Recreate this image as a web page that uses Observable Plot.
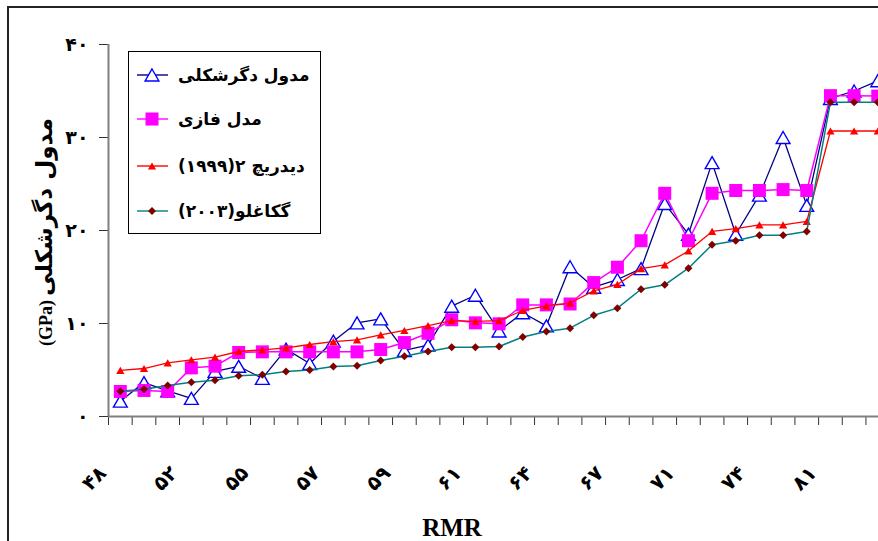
<!DOCTYPE html>
<html>
<head>
<meta charset="utf-8">
<script src="https://cdn.jsdelivr.net/npm/d3@7"></script>
<script src="https://cdn.jsdelivr.net/npm/@observablehq/plot@0.6"></script>
<style>
html, body { margin: 0; padding: 0; background: #fff; overflow: hidden; }
#wrap { position: relative; width: 878px; height: 541px; overflow: hidden; background: #fff; }
#frame { position: absolute; left: 7px; top: 6px; width: 960px; height: 640px; border-top: 2px solid #222; border-left: 2px solid #222; pointer-events: none; }
#legend { position: absolute; left: 128px; top: 51px; width: 191px; height: 181px; border: 1px solid #000; background: #fff; font: bold 17px "DejaVu Sans", sans-serif; }
#legend .row { position: absolute; left: 0; width: 191px; height: 30px; }
#legend svg { position: absolute; left: 8px; top: 0; }
#legend .lab { position: absolute; left: 49px; top: 0; height: 30px; line-height: 30px; direction: rtl; unicode-bidi: embed; white-space: nowrap; }
#ytitle { position: absolute; left: 44px; top: 232px; transform: translate(-50%, -50%) rotate(-90deg); white-space: nowrap; direction: rtl; font-weight: bold; color: #000; line-height: 1; }
#ytitle .fa { font: bold 23px "DejaVu Sans", sans-serif; }
#ytitle .en { font: bold 18px "Liberation Serif", serif; direction: ltr; unicode-bidi: isolate; }
</style>
</head>
<body>
<div id="wrap"><div id="chart"></div><div id="frame"></div><div id="legend"></div><div id="ytitle"></div></div>
<script>
// ---- data ----
const seriesNames = ["مدول دگرشکلی", "مدل فازی", "دیدریچ ۲(۱۹۹۹)", "گکاغلو(۲۰۰۳)"];
const deformModulus = [1.65, 3.65, 2.75, 1.95, 4.85, 5.4, 4.1, 7.25, 5.7, 8.1, 10.07, 10.5, 7.1, 7.67, 11.86, 13.04, 9.2, 11.15, 9.75, 16.1, 13.9, 14.73, 15.9, 22.9, 19.6, 27.3, 19.6, 23.8, 30.0, 22.7, 34.2, 35.0, 36.1];
const fuzzyModel    = [2.69, 2.8, 2.69, 5.23, 5.41, 6.88, 6.95, 6.95, 6.95, 6.95, 6.95, 7.2, 7.95, 8.95, 10.4, 10.07, 9.97, 12.0, 12.0, 12.1, 14.4, 16.05, 18.9, 24.0, 18.9, 24.0, 24.3, 24.3, 24.4, 24.3, 34.5, 34.5, 34.45];
const diederichs    = [4.95, 5.16, 5.77, 6.1, 6.38, 6.99, 7.17, 7.37, 7.74, 8.06, 8.24, 8.78, 9.25, 9.78, 10.3, 10.22, 10.3, 11.4, 11.9, 12.2, 13.5, 14.2, 15.9, 16.3, 17.8, 19.9, 20.2, 20.6, 20.6, 20.97, 30.7, 30.7, 30.7];
const gokceoglu     = [2.72, 2.94, 3.33, 3.69, 3.9, 4.37, 4.48, 4.84, 5.0, 5.38, 5.45, 6.02, 6.49, 6.99, 7.45, 7.45, 7.53, 8.55, 9.15, 9.5, 10.88, 11.65, 13.68, 14.16, 15.95, 18.46, 18.9, 19.5, 19.5, 19.9, 33.8, 33.8, 33.8];
const xTickLabels = ["۴۸", "۵۲", "۵۵", "۵۷", "۵۹", "۶۱", "۶۴", "۶۷", "۷۱", "۷۴", "۸۱"];
const xTickIndex  = [0, 3, 6, 9, 12, 15, 18, 21, 24, 27, 30];
const yTicks = [0, 10, 20, 30, 40];
const yTickLabels = ["۰", "۱۰", "۲۰", "۳۰", "۴۰"];
const yTitleFa = "مدول دگرشکلی";
const yTitleUnit = "(GPa)";
const xTitle = "RMR";

// ---- symbols centred on their bounding box ----
const triBox = { draw(ctx, size) { const r = Math.sqrt(size / Math.PI); ctx.moveTo(0, -r); ctx.lineTo(r * 1.15, r); ctx.lineTo(-r * 1.15, r); ctx.closePath(); } };
const sqBox = { draw(ctx, size) { const r = Math.sqrt(size / Math.PI); ctx.rect(-r, -r, 2 * r, 2 * r); } };
const diaBox = { draw(ctx, size) { const r = Math.sqrt(size / Math.PI); ctx.moveTo(0, -r); ctx.lineTo(r, 0); ctx.lineTo(0, r); ctx.lineTo(-r, 0); ctx.closePath(); } };

const nCat = deformModulus.length;
const rows = (vals) => vals.map((v, i) => ({x: i + 0.5, y: v}));
const sBlue = rows(deformModulus), sMag = rows(fuzzyModel), sRed = rows(diederichs), sTeal = rows(gokceoglu);
const yLab = new Map(yTicks.map((t, i) => [t, yTickLabels[i]]));
const FONT = '"DejaVu Sans", sans-serif';

const plot = Plot.plot({
  width: 878, height: 541,
  marginLeft: 108, marginRight: 878 - 108 - nCat * 23.67, marginTop: 44, marginBottom: 125,
  x: {type: "linear", domain: [0, nCat], axis: null},
  y: {domain: [0, 40], axis: null},
  style: {fontFamily: FONT, fontWeight: "bold", fontSize: "17px", color: "#000", background: "#fff", overflow: "hidden"},
  marks: [
    Plot.axisY({ticks: yTicks, tickFormat: d => yLab.get(d), tickSize: 9, tickPadding: 11, stroke: "#333", fill: "#000", fontSize: 19, label: null}),
    Plot.axisX({ticks: d3.range(0, nCat + 1), tickFormat: () => "", tickSize: 9, stroke: "#333", label: null}),
    Plot.ruleX([0], {stroke: "#808080", strokeWidth: 2}),
    Plot.ruleY([0], {stroke: "#808080", strokeWidth: 2}),
    Plot.text(xTickIndex, {x: i => i + 0.5, frameAnchor: "bottom", text: (d, j) => xTickLabels[j], dx: -26, dy: 62, rotate: -45, textAnchor: "middle", lineAnchor: "middle", fontSize: 20}),
    Plot.text([xTitle], {frameAnchor: "bottom", text: d => d, dx: -47, dy: 111, textAnchor: "middle", lineAnchor: "middle", fontSize: 25, fontFamily: '"Liberation Serif", serif'}),
    Plot.line(sBlue, {x: "x", y: "y", stroke: "#000080", strokeWidth: 1.3}),
    Plot.dot(sBlue, {x: "x", y: "y", symbol: triBox, r: 6, stroke: "#0000ff", fill: "#fff", strokeWidth: 1.4}),
    Plot.line(sMag, {x: "x", y: "y", stroke: "#ff00ff", strokeWidth: 1.5}),
    Plot.dot(sMag, {x: "x", y: "y", symbol: sqBox, r: 6.5, fill: "#ff00ff", stroke: "none"}),
    Plot.line(sRed, {x: "x", y: "y", stroke: "#ff0000", strokeWidth: 1.3}),
    Plot.dot(sRed, {x: "x", y: "y", symbol: triBox, r: 3.6, fill: "#ff0000", stroke: "none"}),
    Plot.line(sTeal, {x: "x", y: "y", stroke: "#008080", strokeWidth: 1.5}),
    Plot.dot(sTeal, {x: "x", y: "y", symbol: diaBox, r: 4, fill: "#800000", stroke: "none"})
  ]
});
document.getElementById("chart").appendChild(plot);

// ---- y title (rotated, right-to-left) ----
const yt = document.getElementById("ytitle");
const fa = document.createElement("span"); fa.className = "fa"; fa.textContent = yTitleFa;
const en = document.createElement("span"); en.className = "en"; en.textContent = yTitleUnit;
yt.appendChild(fa); yt.appendChild(document.createTextNode(" ")); yt.appendChild(en);

// ---- legend ----
const legendStyles = [
  {line: "#000080", mark: `<path d="M15,3 L21.9,15 L8.1,15 Z" fill="#fff" stroke="#0000ff" stroke-width="1.4"/>`},
  {line: "#ff00ff", mark: `<rect x="8.5" y="2.5" width="13" height="13" fill="#ff00ff"/>`},
  {line: "#ff0000", mark: `<path d="M15,5.4 L19.1,12.6 L10.9,12.6 Z" fill="#ff0000"/>`},
  {line: "#008080", mark: `<path d="M15,5 L19,9 L15,13 L11,9 Z" fill="#800000"/>`}
];
const rowTops = [8, 52, 99, 144];
const legend = document.getElementById("legend");
seriesNames.forEach((name, i) => {
  const row = document.createElement("div");
  row.className = "row";
  row.style.top = rowTops[i] + "px";
  row.innerHTML = `<svg width="31" height="30" viewBox="0 -6 31 30"><line x1="0" x2="31" y1="9" y2="9" stroke="${legendStyles[i].line}" stroke-width="1.4"/>${legendStyles[i].mark}</svg><span class="lab"></span>`;
  row.querySelector(".lab").textContent = name;
  legend.appendChild(row);
});
</script>
</body>
</html>
